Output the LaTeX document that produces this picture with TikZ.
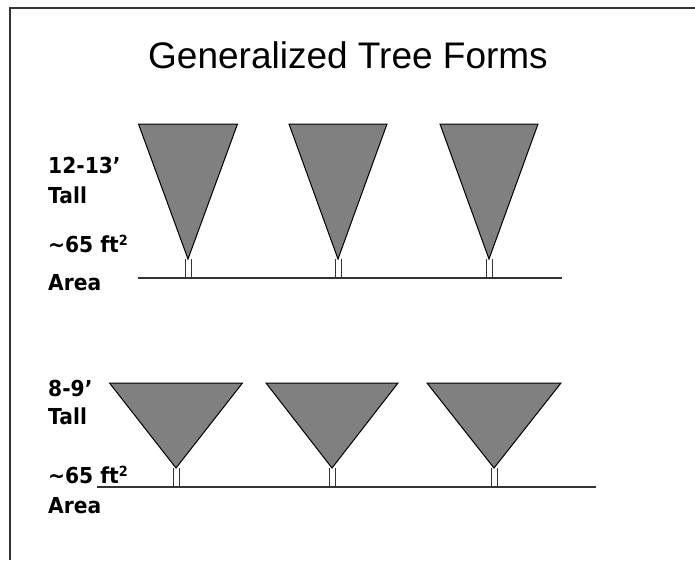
\documentclass[tikz,border=0pt]{standalone}
\usepackage{fontspec}
\setmainfont{DejaVu Sans}
\newfontfamily\lblfont[FakeStretch=0.92]{DejaVu Sans}
\newfontfamily\titlefont{Liberation Sans}
\begin{document}
\begin{tikzpicture}[x=1pt,y=-1pt,
  crown/.style={draw=black,fill=black!50,line width=1pt,line join=miter},
  trunkline/.style={draw=black!80,line width=0.8pt},
  ground/.style={draw=black!80,line width=1.2pt},
  frameline/.style={draw=black!80,line width=1.2pt},
  lbl/.style={anchor=base west,inner sep=0pt,font=\lblfont\fontsize{22}{26}\selectfont\bfseries},
  ttl/.style={anchor=base,inner sep=0pt,font=\titlefont\fontsize{37}{40}\selectfont}]
\useasboundingbox (0,0) rectangle (695,560);
\fill[white] (0,0) rectangle (695,560);
% frame (cropped at right and bottom)
\coordinate (fbl) at (10,560);
\coordinate (ftl) at (10,8);
\coordinate (ftr) at (695,8);
\draw[frameline] (fbl) -- (ftl) -- (ftr);
% title
\node[ttl] (title) at (348,68) {Generalized Tree Forms};
% labels
\newcommand{\sqft}{ft\raisebox{6.5pt}{\fontsize{14}{14}\selectfont\bfseries 2}}
\node[lbl] (h1) at (48,173) {12-13’};
\node[lbl] (t1) at (48,203) {Tall};
\node[lbl] (a1) at (48,252) {\textasciitilde 65 \sqft};
\node[lbl] (r1) at (48,290) {Area};
\node[lbl] (h2) at (48,396) {8-9’};
\node[lbl] (t2) at (48,424) {Tall};
\node[lbl] (a2) at (48,483) {\textasciitilde 65 \sqft};
\node[lbl] (r2) at (48,513) {Area};
% tree macro: apex x, apex y, half width, top y, ground y
\newcommand{\mytree}[5]{%
  \draw[trunkline] (#1-3,#2) -- (#1-3,#5);
  \draw[trunkline] (#1+3,#2) -- (#1+3,#5);
  \draw[crown] (#1-#3,#4) -- (#1+#3,#4) -- (#1,#2) -- cycle;
}
% tall trees
\mytree{188}{259}{49.5}{124}{278}
\mytree{338}{259}{49}{124}{278}
\mytree{489}{259}{49}{124}{278}
\coordinate (g1a) at (138,278);
\coordinate (g1b) at (562,278);
\draw[ground] (g1a) -- (g1b);
% short trees
\mytree{176}{468}{66.5}{383}{487}
\mytree{332}{468}{66}{383}{487}
\mytree{494}{468}{67}{383}{487}
\coordinate (g2a) at (97,487);
\coordinate (g2b) at (596,487);
\draw[ground] (g2a) -- (g2b);
\end{tikzpicture}
\end{document}
